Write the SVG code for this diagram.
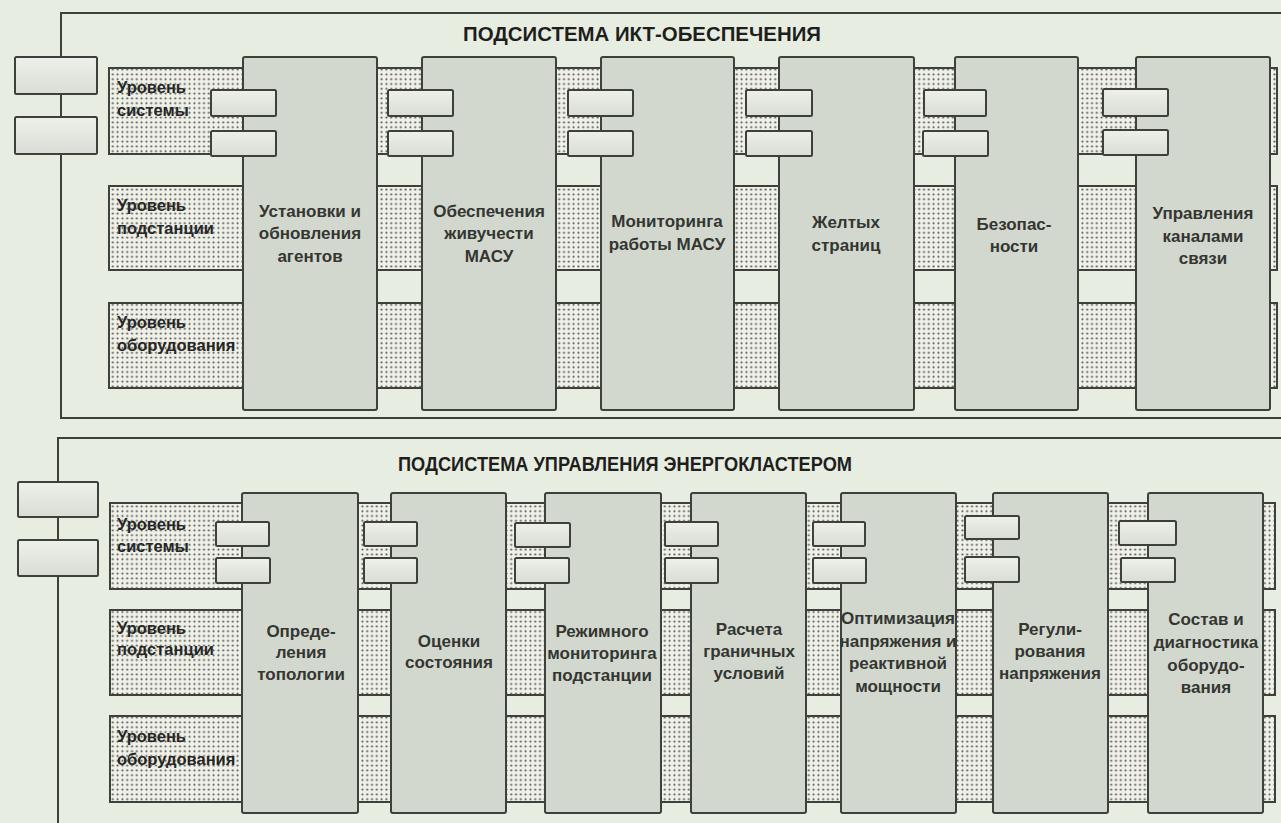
<svg xmlns="http://www.w3.org/2000/svg" width="1281" height="823" viewBox="0 0 1281 823">
<defs>
<pattern id="dots" width="4.8" height="4.8" patternUnits="userSpaceOnUse">
<rect width="4.8" height="4.8" fill="#eff1e9"/>
<circle cx="2.4" cy="2.4" r="1.05" fill="#4c4e49"/>
</pattern>
<linearGradient id="pg" x1="0" y1="0" x2="0" y2="1">
<stop offset="0" stop-color="#eef0ea"/>
<stop offset="1" stop-color="#d9ddd4"/>
</linearGradient>
</defs>
<style>
.frame{fill:none;stroke:#3d403b;stroke-width:2}
.box{fill:url(#pg);stroke:#3d403b;stroke-width:2}
.band{fill:url(#dots);stroke:#3d403b;stroke-width:2}
.col{fill:#d3d8ce;stroke:#3d403b;stroke-width:2}
.port{fill:url(#pg);stroke:#3d403b;stroke-width:2}
.title{font-family:"Liberation Sans",Arial,sans-serif;font-weight:bold;font-size:20px;fill:#1e1f1d;text-anchor:middle}
.lbl{font-family:"Liberation Sans",Arial,sans-serif;font-weight:bold;font-size:17px;fill:#343632;text-anchor:middle}
.lvl{font-family:"Liberation Sans",Arial,sans-serif;font-weight:bold;font-size:16.5px;fill:#262725}
</style>
<rect width="1281" height="823" fill="#e8ede2"/>

<g id="connectors">
<path class="frame" d="M1281,13 H61 V418 H1281"/>
<path class="frame" d="M1281,438 H58 V823"/>
</g>

<!-- Top subsystem -->
<g id="ict-subsystem">
<text class="title" x="642" y="41" textLength="358" lengthAdjust="spacingAndGlyphs">ПОДСИСТЕМА ИКТ-ОБЕСПЕЧЕНИЯ</text>
<g id="ict-iface1"><rect class="box" x="15" y="57" width="82" height="37" rx="1.5"/></g>
<g id="ict-iface2"><rect class="box" x="15" y="117" width="82" height="37" rx="1.5"/></g>
<g id="ict-level-system"><rect class="band" x="109" y="68" width="1168" height="86"/>
<text class="lvl" x="117" y="93">Уровень</text><text class="lvl" x="117" y="116">системы</text></g>
<g id="ict-level-substation"><rect class="band" x="109" y="186" width="1168" height="84"/>
<text class="lvl" x="117" y="211">Уровень</text><text class="lvl" x="117" y="234">подстанции</text></g>
<g id="ict-level-equipment"><rect class="band" x="109" y="303" width="1168" height="85"/>
<text class="lvl" x="117" y="328">Уровень</text><text class="lvl" x="117" y="351">оборудования</text></g>

<g id="ict-agents">
<rect class="col" x="243" y="57" width="134" height="353" rx="2"/>
<rect class="port" x="211" y="90" width="65" height="26" rx="1.5"/>
<rect class="port" x="211" y="131" width="65" height="25" rx="1.5"/>
<text class="lbl" x="310" y="217">Установки и</text><text class="lbl" x="310" y="239">обновления</text><text class="lbl" x="310" y="262">агентов</text>
</g>
<g id="ict-survivability">
<rect class="col" x="422" y="57" width="134" height="353" rx="2"/>
<rect class="port" x="388" y="90" width="65" height="26" rx="1.5"/>
<rect class="port" x="388" y="131" width="65" height="25" rx="1.5"/>
<text class="lbl" x="489" y="217">Обеспечения</text><text class="lbl" x="489" y="239">живучести</text><text class="lbl" x="489" y="262">МАСУ</text>
</g>
<g id="ict-monitoring">
<rect class="col" x="601" y="57" width="133" height="353" rx="2"/>
<rect class="port" x="568" y="90" width="65" height="26" rx="1.5"/>
<rect class="port" x="568" y="131" width="65" height="25" rx="1.5"/>
<text class="lbl" x="667" y="227">Мониторинга</text><text class="lbl" x="667" y="250">работы МАСУ</text>
</g>
<g id="ict-yellow-pages">
<rect class="col" x="779" y="57" width="135" height="353" rx="2"/>
<rect class="port" x="746" y="90" width="66" height="26" rx="1.5"/>
<rect class="port" x="746" y="131" width="66" height="25" rx="1.5"/>
<text class="lbl" x="846" y="228">Желтых</text><text class="lbl" x="846" y="251">страниц</text>
</g>
<g id="ict-security">
<rect class="col" x="955" y="57" width="123" height="353" rx="2"/>
<rect class="port" x="924" y="90" width="62" height="26" rx="1.5"/>
<rect class="port" x="923" y="131" width="65" height="25" rx="1.5"/>
<text class="lbl" x="1014" y="230">Безопас-</text><text class="lbl" x="1014" y="252">ности</text>
</g>
<g id="ict-channels">
<rect class="col" x="1136" y="57" width="134" height="353" rx="2"/>
<rect class="port" x="1103" y="89" width="65" height="27" rx="1.5"/>
<rect class="port" x="1103" y="130" width="65" height="25" rx="1.5"/>
<text class="lbl" x="1203" y="219">Управления</text><text class="lbl" x="1203" y="242">каналами</text><text class="lbl" x="1203" y="264">связи</text>
</g>
</g>

<!-- Bottom subsystem -->
<g id="energy-subsystem">
<text class="title" x="625" y="471" textLength="454" lengthAdjust="spacingAndGlyphs">ПОДСИСТЕМА УПРАВЛЕНИЯ ЭНЕРГОКЛАСТЕРОМ</text>
<g id="en-iface1"><rect class="box" x="18" y="482" width="80" height="35" rx="1.5"/></g>
<g id="en-iface2"><rect class="box" x="18" y="540" width="80" height="36" rx="1.5"/></g>
<g id="en-level-system"><rect class="band" x="110" y="503" width="1165" height="86"/>
<text class="lvl" x="117" y="530">Уровень</text><text class="lvl" x="117" y="552">системы</text></g>
<g id="en-level-substation"><rect class="band" x="110" y="610" width="1165" height="85"/>
<text class="lvl" x="117" y="634">Уровень</text><text class="lvl" x="117" y="655">подстанции</text></g>
<g id="en-level-equipment"><rect class="band" x="110" y="716" width="1165" height="86"/>
<text class="lvl" x="117" y="742">Уровень</text><text class="lvl" x="117" y="765">оборудования</text></g>

<g id="en-topology">
<rect class="col" x="242" y="493" width="116" height="320" rx="2"/>
<rect class="port" x="216" y="522" width="53" height="24" rx="1.5"/>
<rect class="port" x="216" y="558" width="54" height="25" rx="1.5"/>
<text class="lbl" x="301" y="637">Опреде-</text><text class="lbl" x="301" y="658">ления</text><text class="lbl" x="301" y="680">топологии</text>
</g>
<g id="en-state">
<rect class="col" x="391" y="493" width="115" height="320" rx="2"/>
<rect class="port" x="364" y="522" width="53" height="24" rx="1.5"/>
<rect class="port" x="364" y="558" width="53" height="25" rx="1.5"/>
<text class="lbl" x="449" y="647">Оценки</text><text class="lbl" x="449" y="668">состояния</text>
</g>
<g id="en-regime">
<rect class="col" x="545" y="493" width="116" height="320" rx="2"/>
<rect class="port" x="515" y="523" width="55" height="24" rx="1.5"/>
<rect class="port" x="515" y="558" width="54" height="25" rx="1.5"/>
<text class="lbl" x="602" y="637">Режимного</text><text class="lbl" x="602" y="659">мониторинга</text><text class="lbl" x="602" y="681">подстанции</text>
</g>
<g id="en-boundary">
<rect class="col" x="691" y="493" width="115" height="320" rx="2"/>
<rect class="port" x="665" y="522" width="53" height="24" rx="1.5"/>
<rect class="port" x="665" y="558" width="53" height="25" rx="1.5"/>
<text class="lbl" x="749" y="635">Расчета</text><text class="lbl" x="749" y="657">граничных</text><text class="lbl" x="749" y="679">условий</text>
</g>
<g id="en-optimization">
<rect class="col" x="841" y="493" width="115" height="320" rx="2"/>
<rect class="port" x="813" y="522" width="52" height="24" rx="1.5"/>
<rect class="port" x="813" y="558" width="53" height="25" rx="1.5"/>
<text class="lbl" x="898" y="624">Оптимизация</text><text class="lbl" x="898" y="647">напряжения и</text><text class="lbl" x="898" y="669">реактивной</text><text class="lbl" x="898" y="692">мощности</text>
</g>
<g id="en-voltage">
<rect class="col" x="993" y="493" width="115" height="320" rx="2"/>
<rect class="port" x="965" y="516" width="54" height="23" rx="1.5"/>
<rect class="port" x="965" y="557" width="54" height="25" rx="1.5"/>
<text class="lbl" x="1050" y="635">Регули-</text><text class="lbl" x="1050" y="657">рования</text><text class="lbl" x="1050" y="679">напряжения</text>
</g>
<g id="en-equipment">
<rect class="col" x="1148" y="493" width="115" height="320" rx="2"/>
<rect class="port" x="1119" y="521" width="57" height="24" rx="1.5"/>
<rect class="port" x="1121" y="558" width="54" height="24" rx="1.5"/>
<text class="lbl" x="1206" y="625">Состав и</text><text class="lbl" x="1206" y="648">диагностика</text><text class="lbl" x="1206" y="671">оборудо-</text><text class="lbl" x="1206" y="693">вания</text>
</g>
</g>
</svg>
